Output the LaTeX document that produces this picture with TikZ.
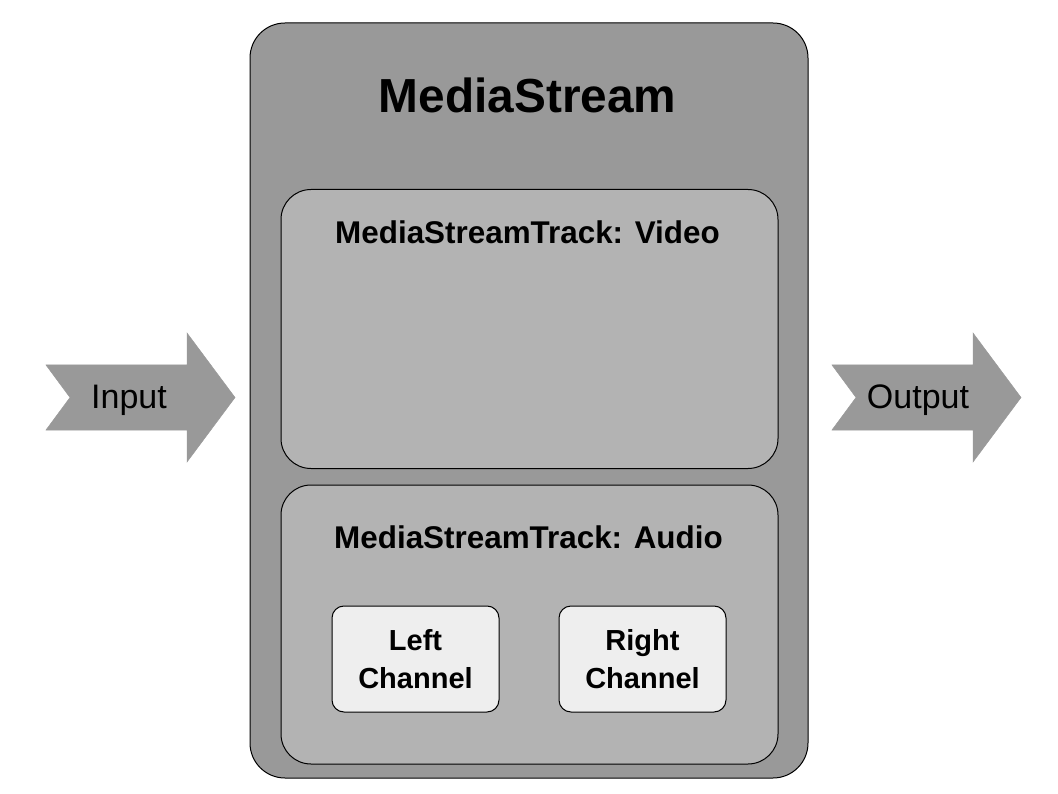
\documentclass[tikz,border=0pt]{standalone}
\usepackage{fontspec}
\setmainfont{Liberation Sans}
\usetikzlibrary{positioning}

\definecolor{streamgray}{HTML}{999999}
\definecolor{trackgray}{HTML}{B3B3B3}
\definecolor{channelgray}{HTML}{EEEEEE}

\tikzset{
    stream/.style={draw=black, line width=1pt, fill=streamgray, rounded corners=35pt,
        minimum width=558pt, minimum height=755pt, inner sep=0pt},
    track/.style={draw=black, line width=1pt, fill=trackgray, rounded corners=30pt,
        minimum width=497pt, minimum height=279pt, inner sep=0pt},
    channel/.style={draw=black, line width=1pt, fill=channelgray, rounded corners=12pt,
        minimum width=167pt, minimum height=106pt, inner sep=0pt, align=center,
        font=\bfseries\fontsize{29}{38}\selectfont},
    flow/.style={fill=streamgray, draw=gray!80, line width=0.5pt},
    flowtext/.style={font=\fontsize{34}{40}\selectfont, anchor=base},
    tracktext/.style={font=\bfseries\fontsize{31.4}{36}\selectfont, anchor=base}
}

\begin{document}
\begin{tikzpicture}[x=1pt,y=-1pt]
    \useasboundingbox (0,0) rectangle (1058,794);

    % outer stream box
    \node[stream] (stream) at (529,400.5) {};
    \node[anchor=base, font=\bfseries\fontsize{47.8}{56}\selectfont] (title) at (527.5,113) {MediaStream};

    % tracks
    \node[track] (video) at (529.5,329) {};
    \node[tracktext] (videolabel) at (527.5,244) {MediaStreamTrack: Video};

    \node[track] (audio) at (529.5,624.5) {};
    \node[tracktext] (audiolabel) at (528.5,548) {MediaStreamTrack: Audio};

    \node[channel] (left) at (415.5,659) {Left\\Channel};
    \node[channel] (right) at (642.5,659) {Right\\Channel};

    % input and output arrows
    \foreach \x in {0,786}
    {
        \filldraw[flow, xshift=\x pt] (46,365) -- (187,365) -- (187,333) -- (235,397.5)
            -- (187,462) -- (187,430) -- (46,430) -- (70,397.5) -- cycle;
    }
    \node[flowtext] (input) at (129,408) {Input};
    \node[flowtext] (output) at (918,408) {Output};

\end{tikzpicture}
\end{document}
